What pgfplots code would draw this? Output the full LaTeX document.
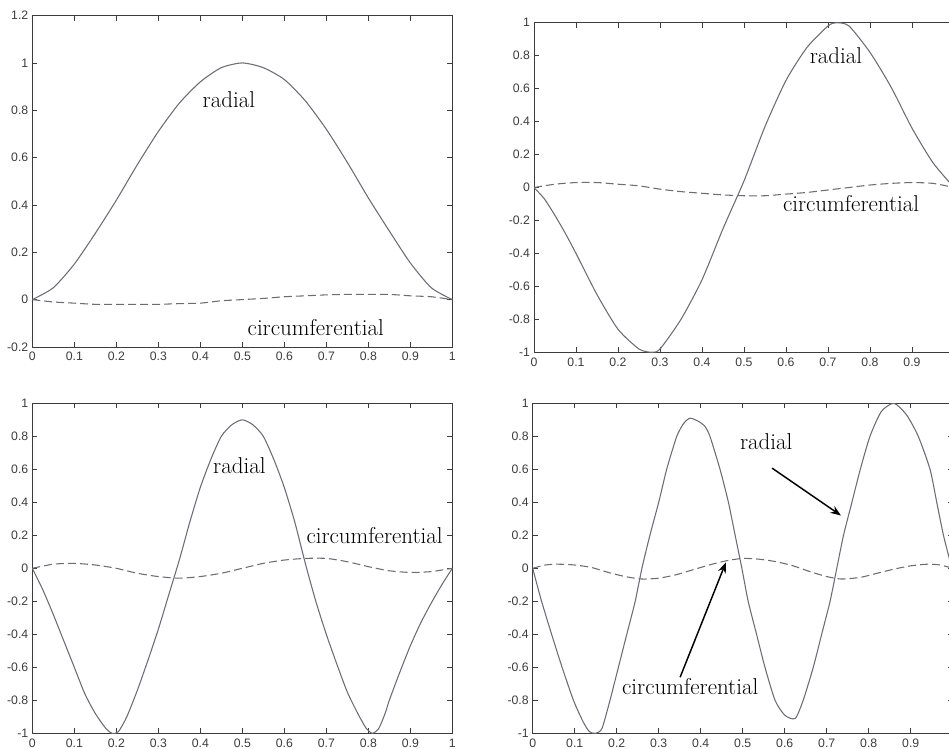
\documentclass[border=0pt]{standalone}
\usepackage{pgfplots}
\pgfplotsset{compat=1.18}
\usepackage{fontspec}
\usetikzlibrary{arrows.meta}
\newfontfamily\ticfont{Liberation Sans}
\definecolor{axc}{HTML}{3C3C3C}
\definecolor{lnc}{HTML}{6C6C76}
\newcommand\annfont{\fontsize{17.2}{19}\selectfont}
\pgfplotsset{
 mstyle/.style={
  scale only axis, width=315pt, anchor=north west,
  xmin=0, xmax=1, xtick={0,0.1,0.2,0.3,0.4,0.5,0.6,0.7,0.8,0.9,1},
  xticklabels={0,0.1,0.2,0.3,0.4,0.5,0.6,0.7,0.8,0.9,1},
  axis line style={axc, line width=0.6pt},
  tick style={axc, line width=0.5pt},
  major tick length=3.75pt,
  tick align=inside, tick pos=both,
  ticklabel style={font=\ticfont\fontsize{9.2}{10}\selectfont, text=axc},
  /pgf/number format/assume math mode=true,
  xticklabel style={yshift=-0.5pt},
  yticklabel style={xshift=0.5pt},
 },
 rad/.style={lnc, line width=0.8pt, smooth, tension=0.4, no markers},
 circ/.style={lnc, line width=0.8pt, dash pattern=on 6pt off 3pt, smooth, tension=0.4, no markers},
}
\begin{document}
\begin{tikzpicture}
% Panel 1
\begin{axis}[mstyle, at={(32.3*0.75pt,-15.6*0.75pt)}, height=248.5pt,
  ymin=-0.2, ymax=1.2, ytick={-0.2,0,0.2,0.4,0.6,0.8,1,1.2},
  yticklabels={-0.2,0,0.2,0.4,0.6,0.8,1,1.2}]
\addplot[rad] coordinates {(0,0) (0.05,0.05) (0.1,0.15) (0.15,0.28) (0.2,0.42) (0.25,0.57) (0.3,0.71) (0.35,0.83) (0.4,0.92) (0.45,0.98) (0.5,1.0) (0.55,0.98) (0.6,0.93) (0.65,0.84) (0.7,0.72) (0.75,0.58) (0.8,0.43) (0.85,0.29) (0.9,0.155) (0.95,0.05) (1,0)};
\addplot[circ] coordinates {(0,0) (0.05,-0.01) (0.1,-0.015) (0.15,-0.02) (0.2,-0.02) (0.25,-0.02) (0.3,-0.02) (0.35,-0.017) (0.4,-0.015) (0.45,-0.005) (0.5,0) (0.55,0.005) (0.6,0.012) (0.65,0.016) (0.7,0.02) (0.75,0.022) (0.8,0.022) (0.85,0.022) (0.9,0.016) (0.95,0.012) (1,0)};
\node[font=\annfont] at (axis cs:0.468,0.845) {radial};
\node[font=\annfont] at (axis cs:0.675,-0.118) {circumferential};
\end{axis}
% Panel 2
\begin{axis}[mstyle, at={(534*0.75pt,-22.7*0.75pt)}, height=247.2pt,
  xticklabels={0,0.1,0.2,0.3,0.4,0.5,0.6,0.7,0.8,0.9,},
  ymin=-1, ymax=1, ytick={-1,-0.8,-0.6,-0.4,-0.2,0,0.2,0.4,0.6,0.8,1},
  yticklabels={-1,-0.8,-0.6,-0.4,-0.2,0,0.2,0.4,0.6,0.8,1}]
\addplot[rad] coordinates {(0,0) (0.025,-0.07) (0.05,-0.17) (0.075,-0.28) (0.1,-0.4) (0.15,-0.65) (0.2,-0.86) (0.25,-0.98) (0.28,-1.0) (0.3,-0.98) (0.35,-0.8) (0.4,-0.56) (0.45,-0.25) (0.5,0.04) (0.55,0.37) (0.6,0.65) (0.65,0.85) (0.7,0.98) (0.72,1.0) (0.75,0.98) (0.8,0.82) (0.85,0.61) (0.9,0.36) (0.95,0.15) (1,0)};
\addplot[circ] coordinates {(0,0) (0.05,0.02) (0.1,0.03) (0.15,0.03) (0.2,0.02) (0.25,0.01) (0.3,-0.01) (0.35,-0.025) (0.4,-0.035) (0.45,-0.045) (0.5,-0.05) (0.55,-0.05) (0.6,-0.04) (0.65,-0.03) (0.7,-0.015) (0.75,0) (0.8,0.015) (0.85,0.025) (0.9,0.03) (0.95,0.025) (1,0)};
\node[font=\annfont] at (axis cs:0.719,0.80) {radial};
\node[font=\annfont] at (axis cs:0.755,-0.10) {circumferential};
\end{axis}
% Panel 3
\begin{axis}[mstyle, at={(32.3*0.75pt,-403.3*0.75pt)}, height=247.5pt,
  ymin=-1, ymax=1, ytick={-1,-0.8,-0.6,-0.4,-0.2,0,0.2,0.4,0.6,0.8,1},
  yticklabels={-1,-0.8,-0.6,-0.4,-0.2,0,0.2,0.4,0.6,0.8,1}]
\addplot[rad] coordinates {(0,0) (0.025,-0.13) (0.05,-0.28) (0.075,-0.44) (0.1,-0.6) (0.125,-0.76) (0.15,-0.88) (0.175,-0.97) (0.19,-1.0) (0.205,-0.99) (0.225,-0.9) (0.25,-0.74) (0.275,-0.56) (0.3,-0.37) (0.325,-0.16) (0.35,0.05) (0.375,0.28) (0.4,0.49) (0.425,0.66) (0.45,0.8) (0.475,0.87) (0.5,0.9) (0.525,0.87) (0.55,0.8) (0.575,0.66) (0.6,0.49) (0.625,0.28) (0.65,0.03) (0.675,-0.2) (0.7,-0.4) (0.725,-0.58) (0.75,-0.75) (0.775,-0.88) (0.795,-0.97) (0.81,-1.0) (0.825,-0.97) (0.84,-0.88) (0.85,-0.8) (0.875,-0.63) (0.9,-0.47) (0.925,-0.33) (0.95,-0.21) (0.975,-0.1) (1,0)};
\addplot[circ] coordinates {(0,0) (0.05,0.025) (0.1,0.03) (0.15,0.02) (0.2,0.0) (0.25,-0.03) (0.3,-0.05) (0.35,-0.06) (0.4,-0.05) (0.45,-0.03) (0.5,0) (0.55,0.03) (0.6,0.05) (0.65,0.06) (0.7,0.06) (0.75,0.04) (0.8,0.01) (0.85,-0.015) (0.9,-0.025) (0.95,-0.02) (1,0)};
\node[font=\annfont] at (axis cs:0.493,0.62) {radial};
\node[font=\annfont] at (axis cs:0.815,0.20) {circumferential};
\end{axis}
% Panel 4
\begin{axis}[mstyle, at={(532.7*0.75pt,-403.3*0.75pt)}, height=247.5pt,
  xticklabels={0,0.1,0.2,0.3,0.4,0.5,0.6,0.7,0.8,0.9,},
  ymin=-1, ymax=1, ytick={-1,-0.8,-0.6,-0.4,-0.2,0,0.2,0.4,0.6,0.8,1},
  yticklabels={-1,-0.8,-0.6,-0.4,-0.2,0,0.2,0.4,0.6,0.8,1}]
\addplot[rad] coordinates {(0,0) (0.02,-0.19) (0.045,-0.4) (0.07,-0.6) (0.097,-0.8) (0.12,-0.93) (0.135,-0.99) (0.15,-1.0) (0.165,-0.97) (0.184,-0.8) (0.204,-0.6) (0.224,-0.4) (0.244,-0.2) (0.26,0) (0.279,0.2) (0.3,0.4) (0.319,0.6) (0.343,0.8) (0.36,0.88) (0.375,0.91) (0.395,0.89) (0.41,0.86) (0.422,0.8) (0.446,0.6) (0.466,0.4) (0.482,0.2) (0.498,0) (0.513,-0.2) (0.533,-0.4) (0.553,-0.6) (0.577,-0.8) (0.6,-0.89) (0.625,-0.91) (0.644,-0.8) (0.668,-0.6) (0.688,-0.4) (0.708,-0.2) (0.724,0) (0.74,0.2) (0.76,0.4) (0.78,0.6) (0.803,0.8) (0.83,0.95) (0.86,1.0) (0.89,0.93) (0.918,0.8) (0.946,0.6) (0.962,0.4) (0.978,0.2) (1,-0.02)};
\addplot[circ] coordinates {(0,0) (0.03,0.02) (0.06,0.025) (0.1,0.02) (0.14,0.005) (0.18,-0.025) (0.22,-0.05) (0.26,-0.065) (0.3,-0.06) (0.34,-0.04) (0.38,-0.01) (0.42,0.02) (0.46,0.045) (0.5,0.06) (0.54,0.055) (0.58,0.04) (0.62,0.015) (0.66,-0.02) (0.7,-0.05) (0.735,-0.065) (0.78,-0.055) (0.82,-0.03) (0.86,-0.005) (0.9,0.015) (0.94,0.025) (0.97,0.02) (1,0)};
\node[font=\annfont] at (axis cs:0.556,0.77) {radial};
\node[font=\annfont] at (axis cs:0.375,-0.715) {circumferential};
\draw[black, line width=1.1pt, -{Stealth[length=8pt,width=6pt]}] (axis cs:0.570,0.607) -- (axis cs:0.734,0.32);
\draw[black, line width=1.1pt, -{Stealth[length=8pt,width=6pt]}] (axis cs:0.351,-0.66) -- (axis cs:0.46,0.036);
\end{axis}
\pgfresetboundingbox
\path[use as bounding box] (0pt,0pt) rectangle (711.75pt,-561.75pt);
\end{tikzpicture}
\end{document}
